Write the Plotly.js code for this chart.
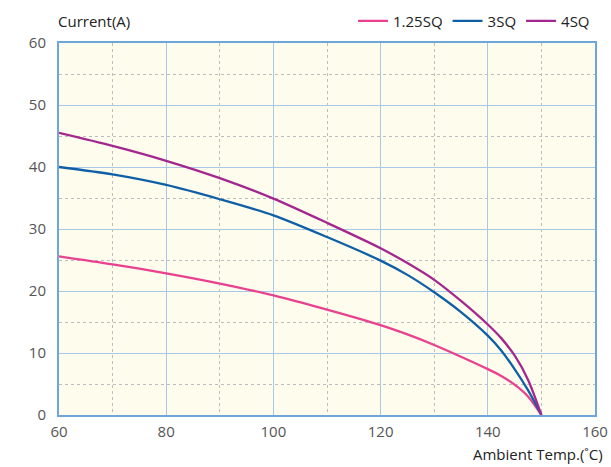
<!DOCTYPE html>
<html><head><meta charset="utf-8">
<script src="https://cdn.plot.ly/plotly-3.0.1.min.js"></script>
<style>html,body{margin:0;padding:0;background:#fff}</style>
</head><body>
<div id="chart" style="width:611px;height:467px"></div>
<script>
const temps = [60, 70, 80, 90, 100, 110, 120, 125, 130, 135, 140, 142.5, 145, 147.5, 150];
const sq4   = [45.5, 43.4, 41.0, 38.2, 34.9, 31.0, 26.9, 24.5, 21.8, 18.4, 14.6, 12.4, 9.6, 5.7, 0];
const sq3   = [40.0, 38.8, 37.1, 34.8, 32.2, 28.7, 24.9, 22.6, 19.8, 16.6, 12.8, 10.4, 7.4, 4.0, 0];
const sq125 = [25.6, 24.3, 22.85, 21.2, 19.3, 17.0, 14.5, 13.0, 11.3, 9.4, 7.4, 6.3, 4.9, 3.0, 0];
const seriesNames = ['1.25SQ', '3SQ', '4SQ'];
const xTicks = [60, 80, 100, 120, 140, 160];
const yTicks = [0, 10, 20, 30, 40, 50, 60];

const colors = ['#e9418f', '#0f5fa6', '#a3278f'];
const data = [sq125, sq3, sq4].map((ys, i) => ({
  x: temps, y: ys, name: seriesNames[i], type: 'scatter', mode: 'lines',
  line: {color: colors[i], width: 2.3, shape: 'spline', smoothing: 0.8}
}));

const fam = 'Open Sans, sans-serif';
const tickFont = {family: fam, size: 15, color: '#555'};
const layout = {
  width: 611, height: 467,
  margin: {l: 59, r: 16, t: 43, b: 52, autoexpand: false},
  paper_bgcolor: '#ffffff', plot_bgcolor: '#fefcec',
  showlegend: true,
  legend: {orientation: 'h', x: 1.0, xanchor: 'right', yref: 'container', y: 0.99, yanchor: 'top',
           font: {family: fam, size: 15, color: '#222'},
           itemwidth: 30, tracegroupgap: 0, bgcolor: 'rgba(0,0,0,0)'},
  xaxis: {range: [60, 160], tickvals: xTicks, ticks: '', tickfont: tickFont, ticklabelstandoff: 2,
          showgrid: true, gridcolor: '#a7c8e6', gridwidth: 1,
          minor: {dtick: 10, tick0: 60, showgrid: true, gridcolor: '#bdbdbd', griddash: 'dot', gridwidth: 1},
          showline: true, linecolor: '#6ea6da', linewidth: 2, mirror: true, zeroline: false,
          fixedrange: true},
  yaxis: {range: [0, 60], tickvals: yTicks, ticks: '', tickfont: tickFont, ticklabelstandoff: 8,
          showgrid: true, gridcolor: '#a7c8e6', gridwidth: 1,
          minor: {dtick: 5, tick0: 0, showgrid: true, gridcolor: '#bdbdbd', griddash: 'dot', gridwidth: 1},
          showline: true, linecolor: '#6ea6da', linewidth: 2, mirror: true, zeroline: false,
          fixedrange: true},
  annotations: [
    {text: 'Current(A)', xref: 'paper', yref: 'paper', x: 0, y: 1, xanchor: 'left', yanchor: 'bottom',
     xshift: -3, yshift: 10, showarrow: false, font: {family: fam, size: 15, color: '#222'}},
    {text: 'Ambient Temp.(˚C)', xref: 'paper', yref: 'paper', x: 1, y: 0, xanchor: 'right', yanchor: 'top',
     xshift: 10, yshift: -27, showarrow: false, font: {family: fam, size: 15, color: '#222'}}
  ]
};
Plotly.newPlot('chart', data, layout, {displayModeBar: false, staticPlot: true});
</script>
</body></html>
